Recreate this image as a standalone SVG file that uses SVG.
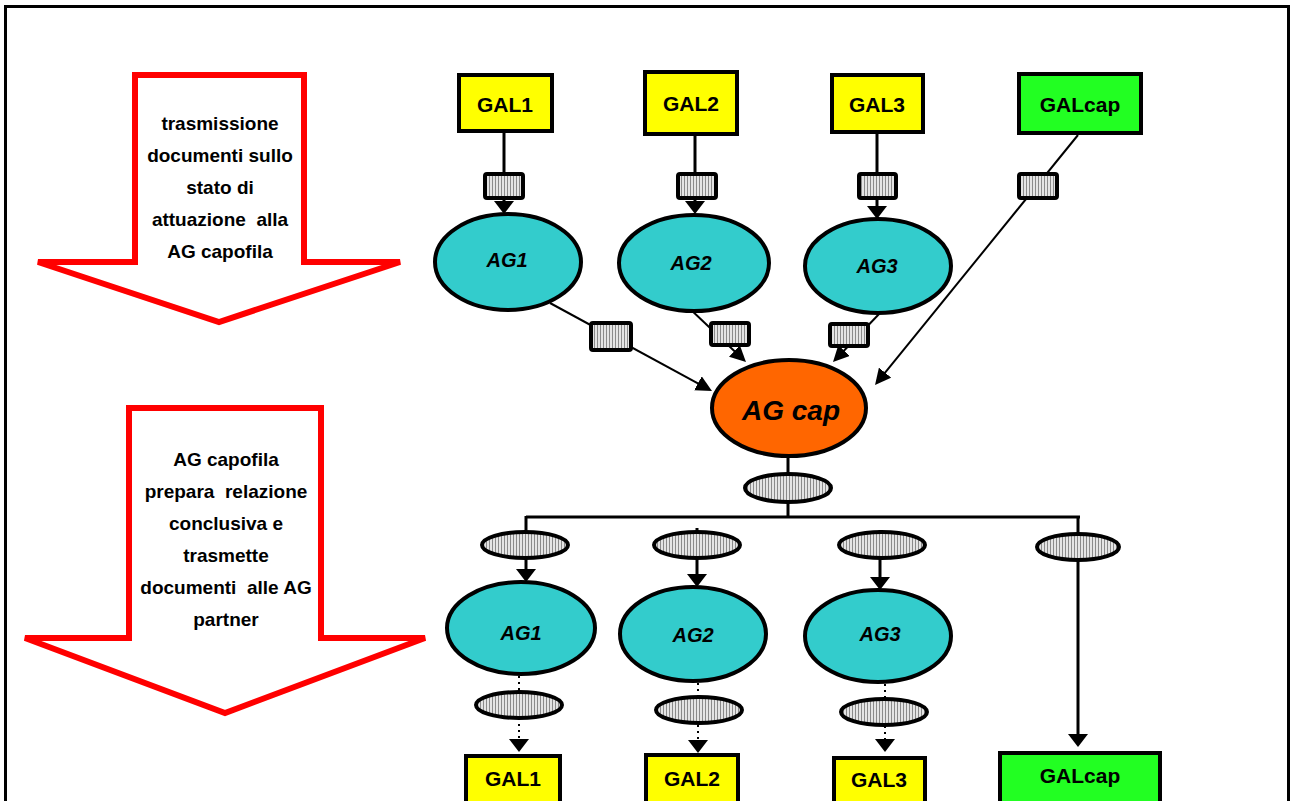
<svg xmlns="http://www.w3.org/2000/svg" width="1292" height="801" viewBox="0 0 1292 801">
<style>
.lbl{font-family:"Liberation Sans",Arial,sans-serif;font-weight:bold;fill:#000;text-anchor:middle}
.ag{font-size:20px;font-style:italic}
.gal{font-size:21px}
.note{font-size:19px;white-space:pre}
.big{fill:none;stroke:#FF0000;stroke-width:6;stroke-linejoin:miter}
.box{stroke:#000;stroke-width:4}
.ell{fill:#33CCCC;stroke:#000;stroke-width:4}
.doc{fill:url(#stripe);stroke:#000;stroke-width:4}
.ln{fill:none;stroke:#000}
</style>
<defs>
<pattern id="stripe" patternUnits="userSpaceOnUse" width="3" height="10">
<rect width="3" height="10" fill="#e4e4e4"/>
<rect width="1" height="10" fill="#8a8a8a"/>
</pattern>
<marker id="ah" markerUnits="userSpaceOnUse" markerWidth="14" markerHeight="20" refX="1" refY="10" orient="auto">
<path d="M0,0 L13,10 L0,20 z" fill="#000"/>
</marker>
<marker id="ah2" markerUnits="userSpaceOnUse" markerWidth="17" markerHeight="16" refX="1" refY="8" orient="auto">
<path d="M0,0 L16,8 L0,16 z" fill="#000"/>
</marker>
</defs>
<rect x="5.5" y="6.5" width="1283" height="830" fill="#fff" stroke="#000" stroke-width="3"/>
<g id="arrow-top">
<polygon class="big" points="135,75 304,75 304,262 400,262 219,322 38,262 135,262"/>
<text class="lbl note" x="220" y="130">trasmissione</text>
<text class="lbl note" x="220" y="162">documenti sullo</text>
<text class="lbl note" x="220" y="194">stato di</text>
<text class="lbl note" x="220" y="226">attuazione  alla</text>
<text class="lbl note" x="220" y="258">AG capofila</text>
</g>
<g id="arrow-bottom">
<polygon class="big" points="129,408 321,408 321,638 425,638 225,713 25,638 129,638"/>
<text class="lbl note" x="226" y="466">AG capofila</text>
<text class="lbl note" x="226" y="498">prepara  relazione</text>
<text class="lbl note" x="226" y="530">conclusiva e</text>
<text class="lbl note" x="226" y="562">trasmette</text>
<text class="lbl note" x="226" y="594">documenti  alle AG</text>
<text class="lbl note" x="226" y="626">partner</text>
</g>
<g id="connectors">
<line class="ln" stroke-width="3" x1="504" y1="133" x2="504" y2="202" marker-end="url(#ah)"/>
<line class="ln" stroke-width="3" x1="695" y1="136" x2="695" y2="202" marker-end="url(#ah)"/>
<line class="ln" stroke-width="3" x1="877" y1="134" x2="877" y2="207" marker-end="url(#ah)"/>
<line class="ln" stroke-width="2" x1="1078" y1="135" x2="884.5" y2="373.4" marker-end="url(#ah2)"/>
<line class="ln" stroke-width="2" x1="550" y1="303" x2="698.8" y2="383.8" marker-end="url(#ah2)"/>
<line class="ln" stroke-width="2" x1="688" y1="307" x2="735.1" y2="351.7" marker-end="url(#ah2)"/>
<line class="ln" stroke-width="2" x1="880" y1="313" x2="843.4" y2="351.2" marker-end="url(#ah2)"/>
<line class="ln" stroke-width="3" x1="788" y1="457" x2="788" y2="517"/>
<line class="ln" stroke-width="3" x1="526" y1="517" x2="1080" y2="517"/>
<line class="ln" stroke-width="3" x1="526" y1="516" x2="526" y2="570" marker-end="url(#ah)"/>
<line class="ln" stroke-width="3" x1="697" y1="528" x2="697" y2="575" marker-end="url(#ah)"/>
<line class="ln" stroke-width="3" x1="880" y1="530" x2="880" y2="578" marker-end="url(#ah)"/>
<line class="ln" stroke-width="3" x1="1078" y1="516" x2="1078" y2="735" marker-end="url(#ah)"/>
<line class="ln" stroke-width="2" stroke-dasharray="2,4" x1="519" y1="676" x2="519" y2="740" marker-end="url(#ah)"/>
<line class="ln" stroke-width="2" stroke-dasharray="2,4" x1="698" y1="683" x2="698" y2="741" marker-end="url(#ah)"/>
<line class="ln" stroke-width="2" stroke-dasharray="2,4" x1="885" y1="684" x2="885" y2="740" marker-end="url(#ah)"/>
<rect class="doc" x="485" y="174" width="38" height="24" rx="2"/>
<rect class="doc" x="678" y="174" width="38" height="24" rx="2"/>
<rect class="doc" x="859" y="174" width="37" height="24" rx="2"/>
<rect class="doc" x="1019" y="174" width="38" height="24" rx="2"/>
<rect class="doc" x="591" y="323" width="40" height="27" rx="2"/>
<rect class="doc" x="711" y="323" width="38" height="22" rx="2"/>
<rect class="doc" x="830" y="324" width="38" height="22" rx="2"/>
<ellipse class="doc" cx="788" cy="488" rx="43" ry="14"/>
<ellipse class="doc" cx="525" cy="545" rx="43" ry="13"/>
<ellipse class="doc" cx="697" cy="545" rx="43" ry="13"/>
<ellipse class="doc" cx="882" cy="545" rx="43" ry="13"/>
<ellipse class="doc" cx="1078" cy="547" rx="41" ry="13"/>
<ellipse class="doc" cx="519" cy="705" rx="43" ry="13"/>
<ellipse class="doc" cx="699" cy="710" rx="43" ry="13"/>
<ellipse class="doc" cx="884" cy="712" rx="43" ry="13"/>
</g>
<g id="gal1-top"><rect class="box" x="459" y="75" width="93" height="56" fill="#FFFF00"/><text class="lbl gal" x="505" y="112">GAL1</text></g>
<g id="gal2-top"><rect class="box" x="645" y="72" width="92" height="62" fill="#FFFF00"/><text class="lbl gal" x="691" y="111">GAL2</text></g>
<g id="gal3-top"><rect class="box" x="832" y="75" width="91" height="57" fill="#FFFF00"/><text class="lbl gal" x="877" y="112">GAL3</text></g>
<g id="galcap-top"><rect class="box" x="1019" y="74" width="122" height="59" fill="#22FF22"/><text class="lbl gal" x="1080" y="112">GALcap</text></g>
<g id="ag1-top"><ellipse class="ell" cx="508" cy="262" rx="73" ry="48"/><text class="lbl ag" x="507" y="267">AG1</text></g>
<g id="ag2-top"><ellipse class="ell" cx="694" cy="263" rx="75" ry="48"/><text class="lbl ag" x="691" y="270">AG2</text></g>
<g id="ag3-top"><ellipse class="ell" cx="878" cy="266" rx="73" ry="47"/><text class="lbl ag" x="877" y="273">AG3</text></g>
<g id="agcap"><ellipse cx="789" cy="408" rx="77" ry="48" fill="#FF6600" stroke="#000" stroke-width="4"/><text class="lbl" style="font-size:28px;font-style:italic" x="791" y="420">AG cap</text></g>
<g id="ag1-bottom"><ellipse class="ell" cx="521" cy="628" rx="74" ry="46"/><text class="lbl ag" x="521" y="640">AG1</text></g>
<g id="ag2-bottom"><ellipse class="ell" cx="693" cy="634" rx="73" ry="47"/><text class="lbl ag" x="693" y="642">AG2</text></g>
<g id="ag3-bottom"><ellipse class="ell" cx="878" cy="636" rx="73" ry="46"/><text class="lbl ag" x="880" y="641">AG3</text></g>
<g id="gal1-bottom"><rect class="box" x="466" y="756" width="94" height="60" fill="#FFFF00"/><text class="lbl gal" x="513" y="786">GAL1</text></g>
<g id="gal2-bottom"><rect class="box" x="646" y="755" width="92" height="60" fill="#FFFF00"/><text class="lbl gal" x="692" y="786">GAL2</text></g>
<g id="gal3-bottom"><rect class="box" x="834" y="758" width="91" height="60" fill="#FFFF00"/><text class="lbl gal" x="879" y="787">GAL3</text></g>
<g id="galcap-bottom"><rect class="box" x="1000" y="753" width="160" height="60" fill="#22FF22"/><text class="lbl gal" x="1080" y="783">GALcap</text></g>
</svg>
